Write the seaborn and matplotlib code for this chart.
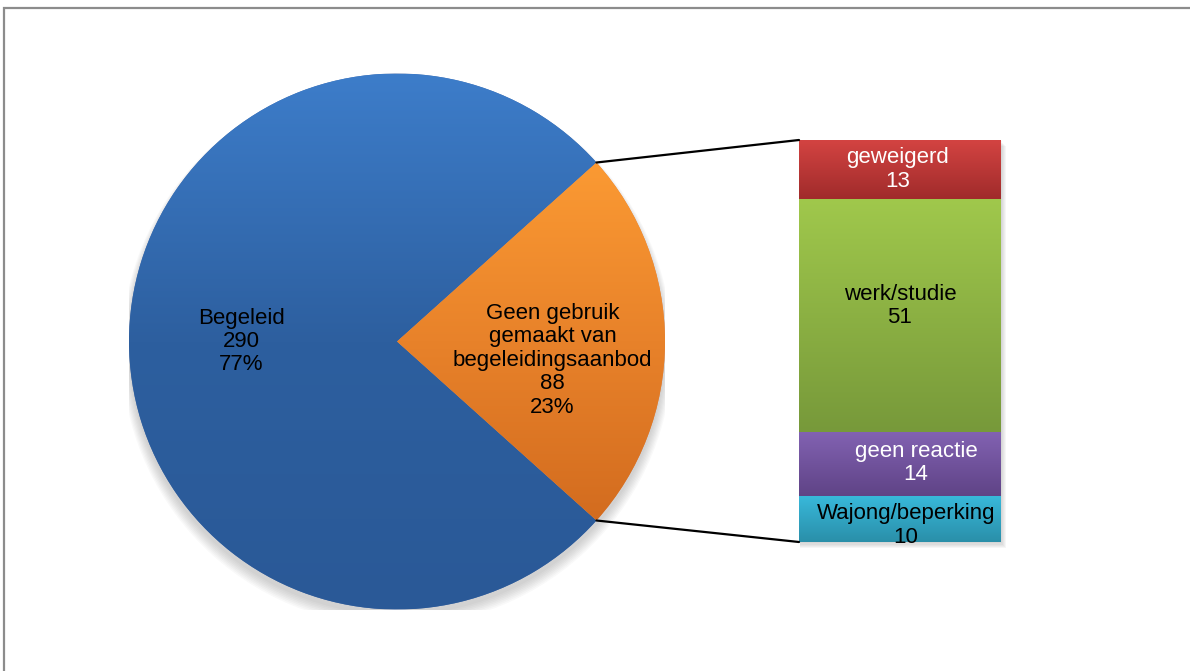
import numpy as np
import matplotlib
matplotlib.use("Agg")
import matplotlib.pyplot as plt
import seaborn as sns
from matplotlib.colors import LinearSegmentedColormap
from matplotlib.patches import ConnectionPatch, Circle, Rectangle

## Data

pie_labels = ["Begeleid", "Geen gebruik\ngemaakt van\nbegeleidingsaanbod"]
pie_values = [290, 88]

bar_labels = ["Wajong/beperking", "geen reactie", "werk/studie", "geweigerd"]
bar_values = [10, 14, 51, 13]

# kleuren (boven -> onder voor de gradient)
pie_colors = [["#3d7dca", "#2d5f9f", "#2a5997"], ["#fb9a33", "#e8822a", "#d36c1f"]]
bar_colors = [["#38b8da", "#2a8fa9"], ["#8262b2", "#5f4386"],
              ["#a0c84c", "#77993a"], ["#d44442", "#a02b2b"]]
bar_text_colors = ["black", "white", "black", "white"]
# kleine verschuiving van de labels (x in staafbreedte, y in waarde-eenheden)
bar_text_shift = [(0.03, -1.4), (0.08, 0.3), (0.0, 2.2), (-0.01, 0.0)]

sns.set_theme(style="white")
plt.rcParams["font.family"] = ["Liberation Sans", "DejaVu Sans"]


def gradient(ax, extent, colors, clip=None, z=2):
    cmap = LinearSegmentedColormap.from_list("g", colors)
    arr = np.linspace(0, 1, 256).reshape(-1, 1)
    im = ax.imshow(arr, cmap=cmap, extent=extent, aspect="auto",
                   origin="upper", zorder=z, interpolation="bilinear")
    if clip is not None:
        im.set_clip_path(clip)
    return im


fig = plt.figure(figsize=(11.9, 6.71), dpi=100)

# rand van het kader
fig.patches.append(Rectangle((4 / 1190, -0.2), 1.2, 1.2 - 8 / 671,
                             transform=fig.transFigure, fill=False,
                             edgecolor="#8c8c8c", linewidth=1.6))

## Taart

ax_pie = fig.add_axes([129 / 1190, 61.5 / 671, 536 / 1190, 536 / 671])
total = sum(pie_values)
start = 360 * pie_values[1] / total / 2

# schaduw
for k in range(8):
    ax_pie.add_patch(Circle((0.0, -0.02 - k * 0.002), 1.0 + k * 0.004,
                            color="#555555", alpha=0.035, lw=0, zorder=0))

wedges, texts = ax_pie.pie(pie_values, startangle=start, labels=None,
                           wedgeprops=dict(linewidth=0, zorder=1),
                           radius=1.0)
for i, (w, cols) in enumerate(zip(wedges, pie_colors)):
    bb = w.get_path().get_extents()
    ext = [-1, 1, -1, 1] if i == 0 else [bb.x0, bb.x1, bb.y0, bb.y1]
    gradient(ax_pie, ext, cols, clip=w)

for i, (lab, v) in enumerate(zip(pie_labels, pie_values)):
    pct = round(v / total * 100)
    w = wedges[i]
    mid = np.deg2rad((w.theta1 + w.theta2) / 2)
    x, y = 0.58 * np.cos(mid), 0.58 * np.sin(mid)
    if i == 1:
        y -= 0.07
    ax_pie.text(x, y, f"{lab}\n{v}\n{pct}%", ha="center", va="center",
                fontsize=16, linespacing=1.15, color="black", zorder=5)

ax_pie.set_xlim(-1, 1)
ax_pie.set_ylim(-1, 1)
ax_pie.set_aspect("equal")
ax_pie.axis("off")

## Staaf

ax_bar = fig.add_axes([799 / 1190, 129 / 671, 202 / 1190, 402 / 671])
cum = np.cumsum(bar_values)
bar_total = cum[-1]

# gestapeld via overlappende seaborn-staven (hoogste eerst)
for i in range(len(bar_values) - 1, -1, -1):
    sns.barplot(x=[0], y=[cum[i]], color=bar_colors[i][0], width=1.0,
                ax=ax_bar, linewidth=0, zorder=1)

for i in range(len(bar_values)):
    bottom = cum[i] - bar_values[i]
    gradient(ax_bar, [-0.5, 0.5, bottom, cum[i]], bar_colors[i], z=2)
    dx, dy = bar_text_shift[i]
    ax_bar.text(dx, bottom + bar_values[i] / 2 + dy,
                f"{bar_labels[i]}\n{bar_values[i]}",
                ha="center", va="center", fontsize=16, linespacing=1.15,
                color=bar_text_colors[i], zorder=5, clip_on=False)

# schaduw staaf
for k in range(5):
    ax_bar.add_patch(Rectangle((-0.5 + 0.004, -0.3 - k * 0.25), 1.0 + k * 0.005,
                               bar_total, color="#555555", alpha=0.05, lw=0,
                               zorder=0, clip_on=False))

ax_bar.set_xlim(-0.5, 0.5)
ax_bar.set_ylim(0, bar_total)
ax_bar.axis("off")

## Verbindingslijnen

t = np.deg2rad(start)
for (py, by) in [(np.sin(t), bar_total), (-np.sin(t), 0)]:
    con = ConnectionPatch(xyA=(np.cos(t), py), coordsA=ax_pie.transData,
                          xyB=(-0.5, by), coordsB=ax_bar.transData,
                          color="black", linewidth=1.6, zorder=10)
    fig.add_artist(con)

fig.savefig("out.png", dpi=100)
